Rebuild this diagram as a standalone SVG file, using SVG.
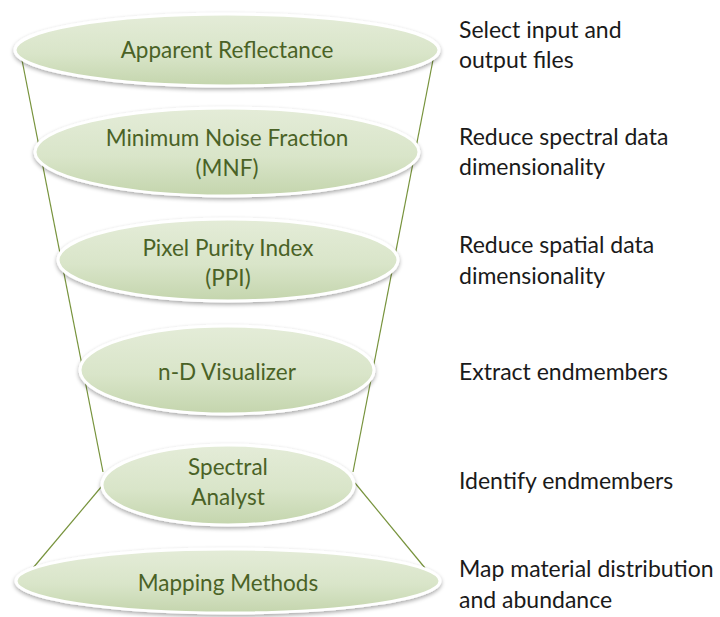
<svg xmlns="http://www.w3.org/2000/svg" width="720" height="617" viewBox="0 0 720 617">
<defs>
<linearGradient id="g" x1="0" y1="0" x2="0" y2="1">
<stop offset="0" stop-color="#e4ecd8"/>
<stop offset="0.55" stop-color="#d9e5c9"/>
<stop offset="1" stop-color="#c4d5ad"/>
</linearGradient>
<filter id="sh" x="-10%" y="-20%" width="120%" height="150%">
<feGaussianBlur in="SourceAlpha" stdDeviation="2"/>
<feOffset dx="0" dy="2" result="b"/>
<feComponentTransfer><feFuncA type="linear" slope="0.35"/></feComponentTransfer>
<feMerge><feMergeNode/><feMergeNode in="SourceGraphic"/></feMerge>
</filter>
</defs>
<style>
.e{fill:url(#g);stroke:#ffffff;stroke-width:3;filter:url(#sh)}
.t{font-family:Lato,"Open Sans",sans-serif;font-size:22.5px;fill:#4a6226;text-anchor:middle}
.d{font-family:Lato,"Open Sans",sans-serif;font-size:23px;fill:#1a1a1a}
.c{stroke:#77933c;stroke-width:1.2;fill:none}
</style>
<rect width="720" height="617" fill="#ffffff"/>
<g id="connectors">
<line class="c" x1="22" y1="60" x2="103" y2="472"/>
<line class="c" x1="433" y1="60" x2="353" y2="472"/>
<line class="c" x1="102" y1="486" x2="33" y2="568"/>
<line class="c" x1="355" y1="483" x2="425" y2="568"/>
</g>
<g id="n1">
<ellipse class="e" cx="227" cy="50" rx="212" ry="36"/>
<text class="t" x="227" y="58">Apparent Reflectance</text>
</g>
<g id="n2">
<ellipse class="e" cx="227" cy="152" rx="192" ry="44"/>
<text class="t" x="227" y="146">Minimum Noise Fraction</text>
<text class="t" x="227" y="176">(MNF)</text>
</g>
<g id="n3">
<ellipse class="e" cx="228" cy="260" rx="170" ry="41"/>
<text class="t" x="228" y="256">Pixel Purity Index</text>
<text class="t" x="228" y="286">(PPI)</text>
</g>
<g id="n4">
<ellipse class="e" cx="227" cy="370" rx="147" ry="44"/>
<text class="t" x="227" y="380">n-D Visualizer</text>
</g>
<g id="n5">
<ellipse class="e" cx="228" cy="485" rx="126" ry="40"/>
<text class="t" x="228" y="475">Spectral</text>
<text class="t" x="228" y="505">Analyst</text>
</g>
<g id="n6">
<ellipse class="e" cx="228" cy="581" rx="212" ry="32"/>
<text class="t" x="228" y="591">Mapping Methods</text>
</g>
<g id="descriptions">
<text class="d" x="459" y="38">Select input and</text>
<text class="d" x="459" y="68">output files</text>
<text class="d" x="459" y="145">Reduce spectral data</text>
<text class="d" x="459" y="175">dimensionality</text>
<text class="d" x="459" y="253">Reduce spatial data</text>
<text class="d" x="459" y="284">dimensionality</text>
<text class="d" x="459" y="380">Extract endmembers</text>
<text class="d" x="459" y="489">Identify endmembers</text>
<text class="d" x="459" y="577">Map material distribution</text>
<text class="d" x="459" y="608">and abundance</text>
</g>
</svg>
